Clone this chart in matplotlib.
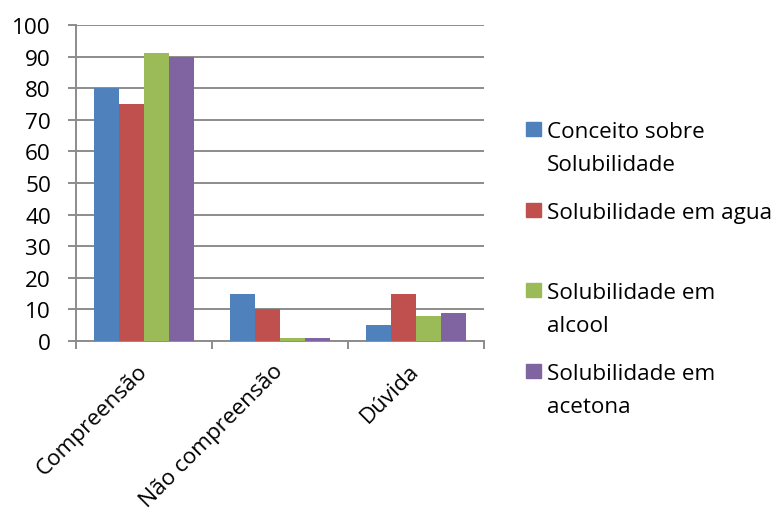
import matplotlib
matplotlib.use("Agg")
import matplotlib.pyplot as plt
from matplotlib.patches import Rectangle
import numpy as np

categories = ["Compreensão", "Não compreensão", "Dúvida"]
series_names = [["Conceito sobre", "Solubilidade"], ["Solubilidade em agua"],
                ["Solubilidade em", "alcool"], ["Solubilidade em", "acetona"]]
conceito = [80, 15, 5]
agua = [75, 10, 15]
alcool = [91, 1, 8]
acetona = [90, 1, 9]
yticks = [0, 10, 20, 30, 40, 50, 60, 70, 80, 90, 100]

colors = ["#4F81BD", "#C0504D", "#9BBB59", "#8064A2"]
series = [conceito, agua, alcool, acetona]

plt.rcParams['font.family'] = ['Open Sans', 'DejaVu Sans']
FS = 16.2
fig = plt.figure(figsize=(7.8, 5.1), dpi=100)
ax = fig.add_axes([76/780, 1-342/510, (484-76)/780, (342-26)/510])

x = np.arange(len(categories))
w = 0.183
for i, (vals, c) in enumerate(zip(series, colors)):
    ax.bar(x + (i - 1.5) * w, vals, width=w, color=c, zorder=3)

gray = '#8C8C8C'
ax.set_xlim(-0.5, 2.5)
ax.set_ylim(0, 100)
ax.set_yticks(yticks)
ax.set_yticklabels([str(t) for t in yticks], fontsize=FS)
ax.grid(axis='y', color=gray, linewidth=1.4, zorder=0)
ax.set_xticks([-0.5, 0.5, 1.5, 2.5])
ax.set_xticklabels([])
ax.set_xticks(x, minor=True)
ax.set_xticklabels(categories, minor=True, rotation=45, ha='right', va='center',
                   rotation_mode='anchor', fontsize=FS)
ax.tick_params(axis='x', which='minor', length=0, pad=19)
ax.tick_params(axis='x', which='major', length=6, color=gray, width=1.4)
ax.tick_params(axis='y', length=6, color=gray, width=1.4, pad=12)
for s in ['top', 'right']:
    ax.spines[s].set_visible(False)
for s in ['left', 'bottom']:
    ax.spines[s].set_color(gray)
    ax.spines[s].set_linewidth(1.4)

# legend (manual, Excel-style)
marker_y = [130, 211, 291, 372]
line_gap = 33
for lines, c, my in zip(series_names, colors, marker_y):
    fig.patches.append(Rectangle((526/780, 1-(my+7)/510), 15/780, 14/510,
                                 transform=fig.transFigure, color=c))
    for k, ln in enumerate(lines):
        fig.text(547/780, 1-(my+8+k*line_gap)/510, ln, fontsize=FS,
                 va='baseline', ha='left')

fig.savefig("out.png", dpi=100)
